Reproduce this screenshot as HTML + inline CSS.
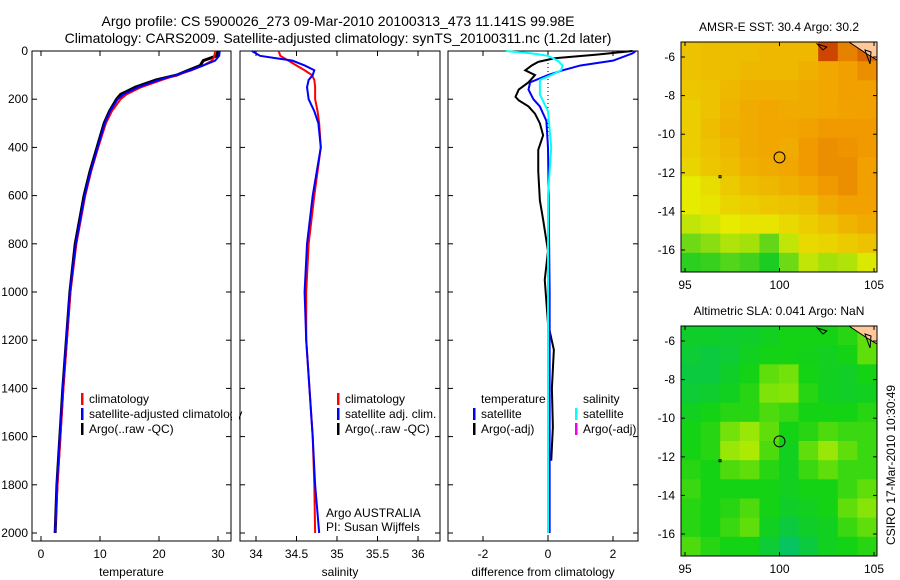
<!DOCTYPE html>
<html><head><meta charset="utf-8">
<style>
body{margin:0;background:#fff;}
svg{display:block;font-family:"Liberation Sans",sans-serif;}
text{font-size:12px;fill:#000;}
</style></head>
<body>
<svg id="fig" width="900" height="580" xmlns="http://www.w3.org/2000/svg">
<text x="338" y="26" text-anchor="middle" style="font-size:14px">Argo profile: CS 5900026_273 09-Mar-2010 20100313_473 11.141S 99.98E</text>
<text x="338" y="43" text-anchor="middle" style="font-size:14px">Climatology: CARS2009. Satellite-adjusted climatology: synTS_20100311.nc (1.2d later)</text>
<text x="779" y="31" text-anchor="middle">AMSR-E SST: 30.4 Argo: 30.2</text>
<text x="779" y="315" text-anchor="middle">Altimetric SLA: 0.041 Argo: NaN</text>
<text x="0" y="0" transform="translate(895,545) rotate(-90)">CSIRO 17-Mar-2010 10:30:49</text>
</svg>
<script>
// ---- data ----
const depthT=[0,20,40,60,80,100,120,150,180,200,250,300,400,500,600,800,1000,1200,1400,1600,1800,2000];
const tempClim=[29.5,29.4,29,27.5,25.5,23,20.5,17,14.5,13.5,12,11,9.7,8.5,7.5,6,5,4.4,3.8,3.3,2.8,2.4];
const tempSat=[30.3,30.2,29.5,27.5,25.3,22.8,20,16.5,14,13,11.7,10.8,9.6,8.4,7.4,5.9,4.9,4.3,3.7,3.2,2.7,2.4];
const tempArgo=[30,29.8,27.5,27,25,23,19.5,16,13.5,12.8,11.6,10.7,9.5,8.3,7.3,5.8,4.9,4.3,3.7,3.2,2.7,2.4];
const depthS=[0,20,30,40,60,80,100,120,150,200,250,300,400,600,800,1000,1200,1400,1600,1800,2000];
const salClim=[34.28,34.3,34.35,34.4,34.5,34.6,34.69,34.72,34.73,34.73,34.76,34.78,34.8,34.72,34.65,34.62,34.62,34.66,34.7,34.72,34.73];
const salSat=[33.95,34.05,34.25,34.45,34.6,34.72,34.7,34.65,34.63,34.65,34.72,34.77,34.8,34.7,34.63,34.6,34.62,34.66,34.7,34.73,34.78];
const depthDT=[0,10,40,60,80,100,130,160,200,230,290,400,600,1000,1500,2000];
const diffTSat=[2.7,2.6,2.0,1.0,0.45,0,-0.55,-0.6,-0.45,-0.25,-0.05,0,0.02,0.05,0.05,0.05];
const depthDS=[0,10,20,40,60,80,100,120,180,250,400,600,1000,2000];
const diffSSat=[-1.3,-0.5,0,0.3,0.45,0.4,0.1,-0.25,-0.25,0,0.1,0,0,0];
const depthDA=[0,15,30,45,60,80,100,130,160,190,205,230,260,300,350,410,500,620,700,830,950,1130,1240,1400,1560,1700];
const diffTArgo=[2.6,1.5,0.2,-0.3,-0.5,-0.7,-0.4,-0.6,-0.9,-1.0,-0.9,-0.6,-0.4,-0.25,-0.15,-0.3,-0.3,-0.25,-0.15,0,-0.1,0,0.18,0.12,0.15,0.1];
const sstGrid=[
[0.6,0.62,0.62,0.62,0.65,0.65,0.65,0.9,0.8,0.85],
[0.6,0.62,0.62,0.65,0.65,0.65,0.68,0.72,0.75,0.78],
[0.58,0.6,0.65,0.68,0.68,0.68,0.7,0.72,0.75,0.75],
[0.55,0.6,0.66,0.7,0.72,0.7,0.7,0.72,0.74,0.75],
[0.55,0.62,0.68,0.7,0.72,0.72,0.74,0.76,0.76,0.76],
[0.55,0.6,0.65,0.7,0.72,0.7,0.76,0.78,0.77,0.76],
[0.52,0.58,0.62,0.68,0.7,0.72,0.76,0.78,0.78,0.75],
[0.42,0.48,0.56,0.62,0.65,0.68,0.72,0.76,0.78,0.75],
[0.42,0.45,0.52,0.55,0.58,0.6,0.62,0.7,0.74,0.74],
[0.35,0.38,0.42,0.45,0.45,0.5,0.55,0.6,0.66,0.7],
[0.2,0.25,0.32,0.3,0.18,0.35,0.5,0.52,0.56,0.6],
[0.08,0.1,0.15,0.12,0.05,0.2,0.35,0.3,0.32,0.4]];
const slaGrid=[
[0.4,0.4,0.38,0.4,0.45,0.5,0.5,0.5,0.55,0.7],
[0.35,0.3,0.35,0.45,0.5,0.5,0.48,0.45,0.5,0.7],
[0.3,0.3,0.4,0.5,0.7,0.75,0.5,0.45,0.42,0.5],
[0.35,0.38,0.45,0.55,0.78,0.8,0.55,0.45,0.42,0.45],
[0.45,0.5,0.55,0.55,0.65,0.6,0.5,0.5,0.5,0.55],
[0.5,0.55,0.75,0.85,0.7,0.5,0.55,0.65,0.6,0.6],
[0.5,0.55,0.85,0.9,0.65,0.45,0.7,0.85,0.7,0.6],
[0.55,0.5,0.65,0.7,0.55,0.45,0.6,0.7,0.6,0.6],
[0.6,0.5,0.5,0.5,0.5,0.45,0.5,0.5,0.6,0.7],
[0.55,0.5,0.55,0.65,0.5,0.4,0.45,0.5,0.7,0.8],
[0.55,0.5,0.6,0.7,0.45,0.3,0.4,0.45,0.6,0.7],
[0.65,0.55,0.5,0.5,0.35,0.15,0.3,0.45,0.5,0.55]];
const depthTicks=[0,200,400,600,800,1000,1200,1400,1600,1800,2000];
const tTicks=[0,10,20,30], sTicks=[34,34.5,35,35.5,36], dTicks=[-2,0,2];
const lonTicks=[95,100,105], latTicks=[-6,-8,-10,-12,-14,-16];

const NS="http://www.w3.org/2000/svg", svg=document.getElementById('fig');
function el(t,a,p){const e=document.createElementNS(NS,t);for(const k in a)e.setAttribute(k,a[k]);(p||svg).appendChild(e);return e;}
const yD=d=>51+d*0.241;
function panel(name,x0,x1,xs,ticks,xlabel,showY){
  const g=el('g',{});
  
  
  el('rect',{x:x0,y:51,width:x1-x0,height:490,fill:'none',stroke:'#000'},g);
  depthTicks.forEach(d=>{const y=yD(d);
    el('line',{x1:x0,x2:x0+5,y1:y,y2:y,stroke:'#000'},g);
    el('line',{x1:x1,x2:x1-5,y1:y,y2:y,stroke:'#000'},g);
    if(showY){const t=el('text',{x:x0-4,y:y+4,'text-anchor':'end'},g);t.textContent=d;}});
  ticks.forEach(v=>{const x=xs(v);
    el('line',{x1:x,x2:x,y1:541,y2:536,stroke:'#000'},g);
    el('line',{x1:x,x2:x,y1:51,y2:56,stroke:'#000'},g);
    const t=el('text',{x:x,y:558,'text-anchor':'middle'},g);t.textContent=v;});
  const l=el('text',{x:(x0+x1)/2,y:576,'text-anchor':'middle'},g);l.textContent=xlabel;
  return g;
}
function line(g,name,xs,vals,depths,color,w){
  const p=el('polyline',{points:vals.map((v,i)=>xs(v)+','+yD(depths[i])).join(' '),fill:'none',stroke:color,'stroke-width':w||2},g);
  
  
}
function legend(g,x,y,items){
  items.forEach((it,i)=>{
    const yy=y+i*15;
    el('rect',{x:x,y:yy-10,width:2.5,height:12,fill:it[1]},g);
    const t=el('text',{x:x+8,y:yy},g);t.textContent=it[0];
    
    
  });
}
const xT=v=>41+v*5.9;
const g1=panel('temperature-panel',32,231,xT,tTicks,'temperature',true);
line(g1,'temp-argo-line',xT,tempArgo,depthT,'#000',3);
line(g1,'temp-climatology-line',xT,tempClim,depthT,'#f00',2);
line(g1,'temp-satellite-line',xT,tempSat,depthT,'#00f',2);
legend(g1,81,403,[['climatology','#f00'],['satellite-adjusted climatology','#00f'],['Argo(..raw -QC)','#000']]);
el('rect',{x:232,y:380,width:7,height:60,fill:'#fff'});
el('line',{x1:231,x2:231,y1:380,y2:440,stroke:'#000'});
const xS=v=>256+(v-34)*81;
const g2=panel('salinity-panel',240,440,xS,sTicks,'salinity',false);
line(g2,'sal-climatology-line',xS,salClim,depthS,'#f00',2);
line(g2,'sal-satellite-line',xS,salSat,depthS,'#00f',2);
legend(g2,337,403,[['climatology','#f00'],['satellite adj. clim.','#00f'],['Argo(..raw -QC)','#000']]);
let t=el('text',{x:326,y:517},g2);t.textContent='Argo AUSTRALIA';
t=el('text',{x:326,y:531},g2);t.textContent='PI: Susan Wijffels';
const xDf=v=>548+v*32.5;
const g3=panel('difference-panel',448,638,xDf,dTicks,'difference from climatology',false);
el('line',{x1:548,x2:548,y1:51,y2:541,stroke:'#000','stroke-dasharray':'1,3'},g3);
line(g3,'diff-temp-argo-line',xDf,diffTArgo,depthDA,'#000',2);
line(g3,'diff-temp-satellite-line',xDf,diffTSat,depthDT,'#00f',2);
line(g3,'diff-sal-satellite-line',xDf,diffSSat,depthDS,'#0ff',2);
t=el('text',{x:481,y:403},g3);t.textContent='temperature';
t=el('text',{x:583,y:403},g3);t.textContent='salinity';
legend(g3,473,418,[['satellite','#00f'],['Argo(-adj)','#000']]);
legend(g3,575,418,[['satellite','#0ff'],['Argo(-adj)','#e0e']]);
function lerp(a,b,f){return a.map((v,i)=>Math.round(v+(b[i]-v)*f));}
function ramp(s,v){for(let i=1;i<s.length;i++)if(v<=s[i][0]){const f=(v-s[i-1][0])/(s[i][0]-s[i-1][0]);return 'rgb('+lerp(s[i-1][1],s[i][1],f)+')';}return 'rgb('+s[s.length-1][1]+')';}
const sstStops=[[0,[0,200,40]],[0.42,[230,235,0]],[0.75,[242,160,0]],[1,[180,10,0]]];
const slaStops=[[0,[0,190,130]],[0.5,[20,210,20]],[1,[210,240,0]]];
function map(name,top,grid,stops){
  const g=el('g',{});
  
  
  const xL=v=>685+(v-95)*18.9, yL=v=>top+15+(-6-v)*19.3;
  const x0=681,x1=877,y0=top,y1=top+230;
  const rows=grid.length, cols=grid[0].length, cw=(x1-x0)/cols, ch=(y1-y0)/rows;
  grid.forEach((r,i)=>r.forEach((v,j)=>{
    const c=el('rect',{x:x0+j*cw,y:y0+i*ch,width:cw+0.5,height:ch+0.5,fill:ramp(stops,v)},g);
    
    
  }));
  el('polygon',{points:`${x1-28},${y0} ${x1},${y0} ${x1},${y0+18} ${x1-10},${y0+12}`,fill:'#ffc89a',stroke:'#000'},g);
  el('polygon',{points:`${x1-12},${y0+8} ${x1-6},${y0+10} ${x1-7},${y0+22}`,fill:'none',stroke:'#000'},g);
  el('polygon',{points:`${xL(102)},${y0+2} ${xL(102.5)},${y0+5} ${xL(102.3)},${y0+8}`,fill:'none',stroke:'#000'},g);
  el('rect',{x:xL(96.8),y:yL(-12.15),width:2,height:2,fill:'none',stroke:'#000'},g);
  el('circle',{cx:xL(100),cy:yL(-11.2),r:5.5,fill:'none',stroke:'#000'},g);
  el('rect',{x:x0,y:y0,width:x1-x0,height:y1-y0,fill:'none',stroke:'#000'},g);
  latTicks.forEach(v=>{const y=yL(v);el('line',{x1:x0,x2:x0+4,y1:y,y2:y,stroke:'#000'},g);el('line',{x1:x1,x2:x1-4,y1:y,y2:y,stroke:'#000'},g);
    const tt=el('text',{x:x0-6,y:y+4,'text-anchor':'end'},g);tt.textContent=v;});
  lonTicks.forEach(v=>{const x=xL(v);el('line',{x1:x,x2:x,y1:y1,y2:y1-4,stroke:'#000'},g);el('line',{x1:x,x2:x,y1:y0,y2:y0+4,stroke:'#000'},g);
    const tt=el('text',{x:x,y:y1+17,'text-anchor':'middle'},g);tt.textContent=v;});
}
map('sst-map',42,sstGrid,sstStops);
map('sla-map',326,slaGrid,slaStops);
</script>
</body></html>
